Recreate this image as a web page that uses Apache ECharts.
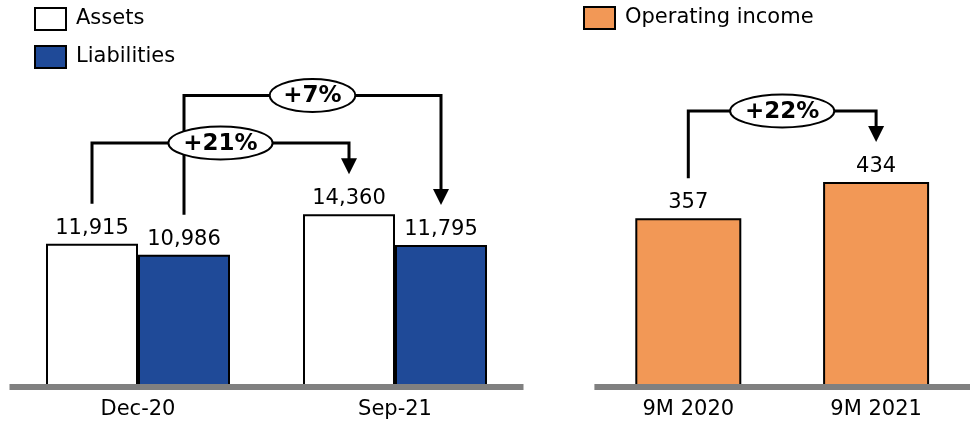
<!DOCTYPE html>
<html>
<head>
<meta charset="utf-8">
<script src="https://cdn.jsdelivr.net/npm/echarts@6/dist/echarts.min.js"></script>
<style>
  html, body { margin: 0; padding: 0; background: #fff; }
  #chart { width: 970px; height: 422px; }
</style>
</head>
<body>
<div id="chart"></div>
<script>
// Balance sheet panel
const balanceCategories = ['Dec-20', 'Sep-21'];
const assets = [11915, 14360];
const liabilities = [10986, 11795];
const assetsGrowth = '+21%';
const liabilitiesGrowth = '+7%';

// Income panel
const incomeCategories = ['9M 2020', '9M 2021'];
const operatingIncome = [357, 434];
const incomeGrowth = '+22%';

const FONT = 'DejaVu Sans, Verdana, sans-serif';
const LEFT_BAR = 92;
const RIGHT_BAR = 106;

const measureCtx = document.createElement('canvas').getContext('2d');
function textWidth(text, font) {
  measureCtx.font = font;
  return measureCtx.measureText(text).width;
}

// Growth brackets: line from one bar, across, arrow down onto the next
function bracketRenderer(metas, halfBar) {
  return function (params, api) {
    const meta = metas[params.dataIndex];
    const p0 = api.coord([api.value(0), api.value(1)]);
    const p1 = api.coord([api.value(2), api.value(3)]);
    const x0 = p0[0] + meta.side * halfBar;
    const x1 = p1[0] + meta.side * halfBar;
    const y0 = p0[1] - 40;
    const y1 = p1[1] - 40;
    const ly = meta.level;
    const head = 16;
    const font = 'bold 23px ' + FONT;
    const rx = textWidth(meta.text, font) * 0.58 + 9;
    const cx = (x0 + x1) / 2;
    return {
      type: 'group',
      children: [
        {
          type: 'polyline',
          shape: { points: [[x0, y0], [x0, ly], [x1, ly], [x1, y1 - head + 1]] },
          style: { stroke: '#000', lineWidth: 3, fill: null, lineJoin: 'miter' }
        },
        {
          type: 'polygon',
          shape: { points: [[x1 - 8, y1 - head], [x1 + 8, y1 - head], [x1, y1]] },
          style: { fill: '#000' }
        },
        {
          type: 'ellipse',
          shape: { cx: cx, cy: ly, rx: rx, ry: 16.5 },
          style: { fill: '#fff', stroke: '#000', lineWidth: 2 }
        },
        {
          type: 'text',
          x: cx,
          y: ly + 1,
          style: {
            text: meta.text,
            font: font,
            fill: '#000',
            align: 'center',
            verticalAlign: 'middle'
          }
        }
      ]
    };
  };
}

const balanceBrackets = [
  { side: 1, level: 95.5, text: liabilitiesGrowth },
  { side: -1, level: 143, text: assetsGrowth }
];
const incomeBrackets = [
  { side: 0, level: 111, text: incomeGrowth }
];

const valueLabel = {
  show: true,
  position: 'top',
  distance: 5,
  fontSize: 21,
  fontFamily: FONT,
  color: '#000',
  formatter: p => echarts.format.addCommas(p.value)
};

const categoryAxis = (gridIndex, data) => ({
  type: 'category',
  gridIndex: gridIndex,
  data: data,
  z: 10,
  axisLine: { lineStyle: { color: '#808080', width: 6, cap: 'butt' } },
  axisTick: { show: false },
  axisLabel: { fontSize: 21, fontFamily: FONT, color: '#000', margin: 12 }
});

const legendText = { fontSize: 21, fontFamily: FONT, color: '#000', padding: [0, 0, 0, 5] };

const chart = echarts.init(document.getElementById('chart'));
chart.setOption({
  animation: false,
  legend: [
    {
      data: ['Assets', 'Liabilities'],
      orient: 'vertical',
      left: 34,
      top: 7,
      padding: 0,
      icon: 'rect',
      itemWidth: 31,
      itemHeight: 22,
      itemGap: 14,
      textStyle: legendText,
      itemStyle: { borderColor: '#000', borderWidth: 2 }
    },
    {
      data: ['Operating income'],
      orient: 'vertical',
      left: 583,
      top: 6,
      padding: 0,
      icon: 'rect',
      itemWidth: 31,
      itemHeight: 22,
      textStyle: legendText,
      itemStyle: { borderColor: '#000', borderWidth: 2 }
    }
  ],
  grid: [
    { left: 9.5, top: 2, width: 514, height: 385 },
    { left: 594.4, top: 9, width: 380.4, height: 378 }
  ],
  xAxis: [
    categoryAxis(0, balanceCategories),
    categoryAxis(1, incomeCategories)
  ],
  yAxis: [
    { type: 'value', gridIndex: 0, min: 0, max: 32000, show: false, splitLine: { show: false } },
    { type: 'value', gridIndex: 1, min: 0, max: 800, show: false, splitLine: { show: false } }
  ],
  series: [
    {
      name: 'Assets',
      type: 'bar',
      xAxisIndex: 0,
      yAxisIndex: 0,
      data: assets,
      barWidth: LEFT_BAR,
      barGap: '0%',
      itemStyle: { color: '#ffffff', borderColor: '#000', borderWidth: 2 },
      label: valueLabel
    },
    {
      name: 'Liabilities',
      type: 'bar',
      xAxisIndex: 0,
      yAxisIndex: 0,
      data: liabilities,
      barWidth: LEFT_BAR,
      barGap: '0%',
      itemStyle: { color: '#1f4a98', borderColor: '#000', borderWidth: 2 },
      label: valueLabel
    },
    {
      name: 'Operating income',
      type: 'bar',
      xAxisIndex: 1,
      yAxisIndex: 1,
      data: operatingIncome,
      barWidth: RIGHT_BAR,
      itemStyle: { color: '#f29856', borderColor: '#000', borderWidth: 2 },
      label: valueLabel
    },
    {
      type: 'custom',
      xAxisIndex: 0,
      yAxisIndex: 0,
      clip: false,
      silent: true,
      z: 4,
      renderItem: bracketRenderer(balanceBrackets, LEFT_BAR / 2),
      data: [
        [0, liabilities[0], 1, liabilities[1]],
        [0, assets[0], 1, assets[1]]
      ]
    },
    {
      type: 'custom',
      xAxisIndex: 1,
      yAxisIndex: 1,
      clip: false,
      silent: true,
      z: 4,
      renderItem: bracketRenderer(incomeBrackets, RIGHT_BAR / 2),
      data: [
        [0, operatingIncome[0], 1, operatingIncome[1]]
      ]
    }
  ]
});
</script>
</body>
</html>
